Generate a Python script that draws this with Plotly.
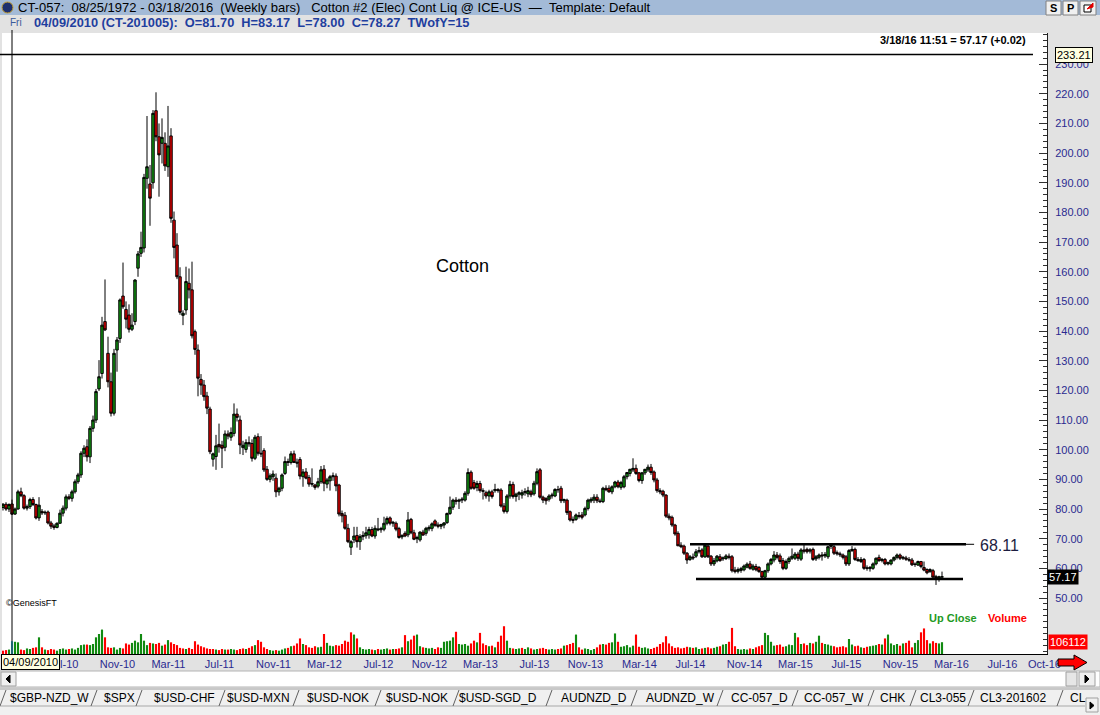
import pandas as pd
import plotly.graph_objects as go

# ---------------- data (weekly bars, Fridays) ----------------
first_bar_date = "2010-03-19"

opens = [
    80.5, 81.6, 80.0, 81.70, 78.3, 80.0, 85.8, 84.5, 80.3, 80.8,
    83.2, 81.5, 77.0, 79.2, 78.7, 79.0, 75.3, 74.3, 73.8, 75.2,
    78.6, 80.3, 84.1, 83.6, 85.8, 89.2, 91.5, 98.8, 101.0, 97.6,
    107.2, 110.0, 120.5, 125.7, 143.2, 132.5, 122.9, 112.3, 133.6, 137.5,
    151.8, 147.3, 145.4, 140.6, 143.2, 161.2, 166.2, 168.0, 191.5, 189.6,
    190.0, 214.3, 205.5, 203.3, 203.3, 195.4, 205.8, 177.4, 169.0, 158.3,
    145.3, 147.1, 156.1, 153.9, 139.8, 133.6, 123.7, 121.8, 118.1, 113.7,
    96.8, 97.7, 101.8, 101.5, 100.8, 105.3, 104.2, 105.5, 112.0, 110.0,
    100.7, 100.1, 102.4,
    102.1, 97.1, 104.4, 98.8, 99.7, 93.4, 90.0, 90.9, 90.4, 85.8,
    87.0, 92.0, 96.0, 95.7, 98.6, 95.8, 96.7, 90.9, 92.5, 90.6,
    88.6, 88.1, 87.7, 89.2, 93.4, 88.4, 89.5, 90.9, 91.1, 88.1,
    78.5, 77.9, 73.5, 67.1, 69.6, 71.1, 69.0, 70.7, 71.0, 71.3,
    73.1, 70.9, 73.3, 73.0, 73.2, 75.2, 77.0, 75.2, 75.2, 73.4,
    70.6, 71.8, 71.3, 76.5, 72.0, 70.0, 69.6, 72.2, 71.8, 73.3,
    73.5, 76.0, 74.6, 74.2, 74.6, 75.4, 78.5, 80.6, 83.0, 82.6,
    83.0, 83.0, 85.3, 92.4, 88.9, 87.2, 88.6, 86.2, 85.5, 84.4,
    85.8, 86.2, 86.6, 86.4, 81.0, 79.2, 84.4, 88.3,
    84.2, 85.0, 84.7, 85.5, 85.1, 85.8, 85.1, 88.7, 93.2, 84.0,
    83.5, 83.3, 84.4, 84.4, 86.6, 87.0, 82.8, 83.0, 79.1, 76.5,
    76.5, 77.8, 78.0, 78.0, 80.2, 82.7, 83.0, 84.0, 82.7, 82.5,
    87.0, 87.0, 85.8, 87.5, 89.1, 87.3, 87.5, 90.9, 92.0, 93.2,
    93.7, 92.2, 89.6, 92.2, 93.2, 94.1, 92.5, 89.8, 86.2, 86.0,
    84.7, 77.6, 77.2, 74.6, 71.8, 67.8, 67.5, 65.1, 63.0, 63.8,
    64.1, 65.6, 66.2, 63.9, 67.5, 64.1, 61.5, 62.5, 63.9, 63.2,
    63.3, 64.1, 63.9, 59.4, 59.0, 59.3, 59.5, 60.4, 61.5, 59.7,
    60.6, 60.3, 58.9, 57.0, 59.2, 61.5, 62.8, 64.5,
    64.2, 62.6, 60.0, 62.3, 63.4, 63.4, 64.8, 63.1, 66.2, 66.4,
    65.8, 66.4, 63.2, 63.7, 64.5, 64.2, 63.9, 67.4, 67.3, 65.3,
    64.9, 64.5, 63.9, 61.5, 66.0, 66.4, 63.0, 62.3, 63.0, 60.2,
    59.9, 60.0, 61.5, 63.7, 62.6, 63.0, 61.5, 61.5, 62.8, 63.7,
    64.5, 63.4, 63.5, 63.0, 62.8, 61.3, 61.1, 62.3, 60.3, 59.6,
    58.9, 59.2, 57.2, 56.7, 57.0,
]

highs = [
    82.0, 82.3, 81.9, 83.17, 80.5, 86.5, 87.2, 85.0, 81.5, 83.8,
    84.0, 81.8, 84.0, 80.0, 79.5, 79.5, 76.0, 75.0, 75.5, 79.8,
    81.2, 84.9, 85.0, 86.5, 90.0, 92.2, 99.5, 101.5, 103.5, 108.0,
    111.5, 120.5, 130.2, 144.8, 157.4, 138.1, 126.0, 134.0, 138.0, 151.0,
    163.1, 150.0, 149.0, 146.0, 157.5, 167.0, 173.5, 193.0, 212.5, 196.0,
    214.5, 220.5, 210.0, 211.7, 207.0, 215.9, 208.4, 180.3, 173.0, 161.5,
    147.0, 161.7, 161.1, 163.4, 140.5, 135.5, 125.5, 123.5, 119.5, 114.5,
    99.0, 105.0, 108.8, 103.0, 106.5, 106.5, 107.5, 115.6, 113.9, 111.5,
    103.0, 103.5, 104.5,
    103.5, 105.0, 105.5, 104.6, 100.5, 94.5, 92.0, 93.0, 92.0, 87.5,
    92.0, 97.7, 97.0, 99.5, 99.7, 97.0, 97.5, 93.5, 93.8, 91.5,
    93.7, 88.5, 90.5, 94.5, 94.8, 90.5, 91.5, 92.3, 92.0, 88.5,
    79.5, 79.0, 75.0, 69.5, 74.0, 74.0, 71.5, 72.5, 74.0, 74.0,
    74.0, 74.5, 77.0, 74.0, 77.4, 77.5, 77.5, 76.0, 75.8, 74.0,
    71.5, 72.5, 79.0, 77.0, 73.0, 71.0, 72.5, 73.0, 74.0, 74.5,
    75.5, 76.5, 75.5, 75.0, 75.6, 78.8, 84.2, 83.5, 84.0, 83.5,
    84.0, 86.0, 93.7, 93.0, 89.8, 89.5, 89.5, 87.0, 86.2, 86.5,
    86.5, 88.5, 87.0, 87.0, 82.0, 85.0, 89.5, 89.2,
    85.5, 86.0, 86.5, 87.0, 87.5, 86.5, 89.5, 93.7, 93.8, 84.5,
    84.0, 85.0, 85.5, 87.0, 87.8, 87.8, 83.5, 83.5, 79.5, 77.5,
    78.5, 79.0, 79.0, 80.8, 83.5, 84.0, 85.0, 85.0, 83.5, 87.5,
    88.0, 88.0, 88.0, 89.5, 89.8, 89.5, 91.5, 92.5, 93.5, 97.1,
    95.0, 92.5, 92.5, 93.5, 95.0, 95.2, 93.0, 90.5, 87.0, 86.5,
    85.0, 78.5, 77.8, 75.0, 72.5, 68.8, 68.0, 65.5, 64.5, 65.0,
    66.5, 67.3, 66.8, 68.4, 68.2, 64.5, 63.5, 64.5, 64.8, 64.0,
    64.8, 65.0, 64.5, 60.5, 60.3, 60.5, 61.3, 62.0, 62.5, 61.5,
    61.5, 60.8, 59.2, 59.5, 62.0, 63.5, 65.8, 65.5,
    65.0, 63.5, 63.0, 64.0, 66.7, 65.5, 65.6, 66.8, 68.2, 67.0,
    66.8, 67.0, 64.5, 65.0, 65.5, 65.5, 67.6, 68.5, 68.0, 66.0,
    65.6, 65.0, 64.5, 66.5, 67.5, 67.0, 63.8, 63.8, 63.5, 61.0,
    60.8, 62.0, 63.7, 64.6, 63.5, 63.5, 62.3, 63.0, 64.0, 65.0,
    65.0, 64.2, 64.2, 63.8, 63.5, 62.0, 62.6, 62.5, 62.3, 60.0,
    60.0, 59.8, 57.8, 57.5, 58.9,
]

lows = [
    79.5, 79.4, 79.0, 78.00, 78.0, 79.8, 84.0, 79.8, 79.5, 80.0,
    81.0, 76.5, 76.0, 78.0, 78.0, 74.8, 73.3, 73.0, 73.5, 75.0,
    77.5, 79.5, 83.0, 82.5, 85.2, 88.5, 90.5, 97.5, 96.0, 95.5,
    106.0, 109.0, 119.8, 124.0, 140.0, 121.0, 111.2, 111.5, 126.3, 136.0,
    147.5, 140.9, 139.5, 140.0, 142.0, 158.3, 165.0, 166.5, 188.0, 175.5,
    188.0, 204.0, 185.3, 196.5, 194.0, 192.0, 176.5, 164.5, 157.5, 145.5,
    142.0, 145.5, 151.0, 137.5, 132.0, 118.0, 118.5, 116.5, 112.0, 98.5,
    94.3, 93.2, 99.0, 93.8, 99.5, 103.5, 103.0, 104.5, 109.5, 98.5,
    98.2, 99.0, 101.0,
    96.0, 96.5, 98.0, 97.5, 92.5, 89.5, 89.0, 89.5, 84.0, 84.5,
    86.0, 91.5, 94.5, 95.0, 95.5, 94.0, 90.0, 87.5, 90.0, 87.5,
    87.5, 86.5, 87.0, 88.5, 86.0, 87.0, 86.2, 89.5, 86.0, 77.5,
    75.5, 73.0, 68.5, 64.5, 68.5, 67.0, 66.2, 69.5, 70.0, 70.0,
    70.5, 70.0, 72.5, 72.0, 72.5, 74.5, 74.5, 74.0, 72.5, 70.0,
    69.8, 70.5, 70.5, 71.5, 69.5, 68.5, 69.0, 71.0, 71.0, 72.5,
    72.5, 74.0, 73.5, 73.2, 73.5, 75.0, 78.0, 79.7, 81.5, 80.0,
    82.0, 82.5, 84.5, 86.5, 86.5, 86.0, 85.5, 83.2, 83.5, 82.5,
    83.5, 85.5, 85.5, 80.5, 78.5, 78.5, 83.5, 83.5,
    82.5, 83.0, 83.5, 84.5, 84.0, 84.0, 84.5, 88.0, 83.5, 82.0,
    81.5, 82.5, 83.5, 84.0, 85.5, 82.0, 82.0, 78.0, 75.8, 75.2,
    76.0, 76.8, 76.5, 77.5, 79.5, 82.0, 82.0, 82.0, 82.0, 82.0,
    86.0, 85.5, 85.0, 87.0, 87.0, 86.5, 87.0, 90.0, 91.0, 92.5,
    91.5, 89.0, 88.5, 91.5, 92.5, 91.5, 89.0, 85.5, 85.0, 84.0,
    77.0, 76.2, 74.0, 71.0, 67.5, 66.8, 64.5, 61.5, 62.5, 62.8,
    63.5, 65.0, 63.5, 63.5, 63.5, 60.8, 60.8, 62.0, 62.2, 62.5,
    62.8, 63.0, 58.6, 58.3, 58.3, 58.5, 59.0, 60.0, 59.5, 59.2,
    59.0, 58.5, 56.5, 56.5, 58.5, 61.0, 62.0, 63.0,
    61.5, 59.4, 59.5, 61.5, 62.8, 62.8, 62.5, 62.5, 65.0, 65.0,
    65.0, 62.5, 62.5, 63.0, 62.6, 63.5, 63.2, 66.5, 64.5, 64.3,
    63.8, 63.0, 60.8, 60.8, 65.5, 62.5, 62.2, 61.8, 59.5, 59.2,
    58.9, 59.5, 61.0, 62.2, 62.0, 61.0, 61.0, 61.0, 62.3, 63.0,
    62.8, 62.8, 62.5, 62.2, 60.8, 60.5, 60.8, 60.0, 59.0, 58.0,
    58.5, 56.8, 54.4, 55.5, 57.0,
]

closes = [
    81.6, 80.0, 81.5, 78.27, 80.0, 85.8, 84.5, 80.3, 80.8, 83.2,
    81.5, 77.0, 81.3, 78.7, 78.9, 75.3, 74.2, 73.8, 75.2, 78.6,
    80.3, 84.1, 83.6, 85.8, 89.2, 91.5, 98.8, 100.5, 97.6, 107.2,
    110.0, 119.6, 124.6, 142.0, 140.4, 122.9, 112.3, 132.5, 137.0, 150.5,
    148.2, 144.0, 140.6, 142.0, 157.2, 166.0, 168.2, 191.8, 195.4, 184.8,
    213.4, 205.5, 199.4, 205.3, 195.7, 202.4, 178.0, 168.2, 158.3, 146.3,
    146.0, 156.7, 153.9, 138.4, 133.8, 124.1, 121.8, 117.9, 114.0, 99.3,
    98.6, 101.3, 101.0, 100.5, 105.3, 104.6, 105.8, 112.0, 110.9, 101.6,
    101.5, 102.4, 102.0,
    97.1, 104.2, 98.8, 98.6, 93.2, 90.0, 91.2, 91.8, 85.8, 87.0,
    91.5, 96.0, 95.7, 98.6, 95.7, 95.5, 91.1, 92.5, 90.4, 88.4,
    88.4, 87.3, 89.2, 93.2, 88.7, 89.8, 90.9, 91.2, 87.8, 78.3,
    77.7, 73.5, 69.0, 69.0, 70.9, 69.0, 70.7, 71.1, 72.0, 73.1,
    70.9, 73.5, 73.0, 73.4, 75.2, 76.8, 75.2, 75.5, 73.2, 70.4,
    71.0, 70.9, 76.3, 72.0, 69.8, 70.4, 72.2, 71.2, 73.5, 73.8,
    75.0, 74.5, 74.2, 74.8, 75.3, 78.5, 80.6, 83.0, 82.6, 83.0,
    83.3, 85.3, 92.3, 87.0, 87.0, 88.6, 86.2, 86.0, 84.4, 85.8,
    84.2, 86.6, 86.2, 81.0, 79.2, 84.4, 88.3, 84.2,
    85.0, 85.5, 85.5, 85.9, 86.2, 84.8, 88.7, 92.6, 84.0, 83.0,
    82.8, 84.4, 84.7, 86.6, 86.5, 82.8, 83.2, 78.8, 76.3, 76.2,
    78.0, 77.5, 77.2, 80.2, 83.0, 83.3, 84.0, 82.8, 82.5, 87.0,
    86.5, 85.8, 87.5, 89.1, 87.5, 88.9, 90.9, 92.3, 93.4, 93.7,
    92.0, 89.6, 92.2, 93.4, 94.1, 92.3, 89.8, 86.2, 85.8, 84.7,
    77.6, 77.0, 74.6, 71.6, 67.6, 67.3, 65.1, 62.8, 63.9, 63.5,
    65.6, 66.0, 63.9, 67.8, 63.9, 61.5, 62.6, 64.1, 62.6, 63.5,
    64.2, 63.7, 59.2, 58.9, 59.6, 59.9, 60.8, 61.4, 60.0, 60.8,
    59.5, 58.9, 57.0, 59.2, 61.5, 63.0, 64.5, 63.7,
    62.3, 60.0, 62.3, 63.4, 64.1, 64.8, 63.4, 66.2, 65.8, 65.6,
    66.2, 63.0, 63.9, 64.5, 64.2, 64.7, 67.3, 67.9, 65.1, 64.9,
    64.6, 63.7, 61.5, 66.0, 66.4, 63.0, 62.6, 63.0, 60.0, 60.0,
    60.3, 61.5, 63.4, 62.6, 63.0, 61.5, 61.9, 62.8, 63.7, 64.5,
    63.4, 63.7, 63.1, 62.8, 61.2, 61.4, 62.3, 60.6, 59.4, 58.5,
    59.6, 57.0, 56.8, 57.15, 57.17,
]

# weekly volume, thousands of contracts
volume_k = [
    30, 35, 40, 115, 110, 105, 40, 35, 50, 45,
    55, 60, 150, 60, 40, 35, 45, 40, 30, 45,
    50, 40, 45, 50, 40, 55, 80, 85, 85, 80,
    90, 150, 180, 220, 150, 60, 55, 60, 40, 55,
    50, 95, 85, 100, 120, 105, 180, 120, 80, 100,
    95, 90, 100, 75, 85, 125, 105, 90, 80, 55,
    50, 45, 55, 45, 115, 85, 70, 60, 50, 45,
    45, 40, 35, 45, 40, 40, 45, 40, 35, 45,
    50, 45, 55, 70, 80, 125, 110, 60, 45, 35,
    30, 35, 30, 40, 50, 55, 70, 75, 95, 140,
    90, 80, 60, 55, 70, 60, 65, 180, 100, 75,
    70, 80, 75, 90, 120, 110, 195, 175, 140, 60,
    45, 40, 45, 40, 35, 45, 40, 45, 50, 40,
    45, 45, 50, 60, 170, 115, 130, 165, 175, 70,
    60, 55, 50, 55, 45, 60, 55, 110, 115, 120,
    150, 200, 90, 85, 90, 75, 95, 120, 105, 190,
    95, 80, 70, 75, 60, 110, 165, 250, 120, 55,
    50, 45, 50, 55, 45, 60, 50, 40, 45, 50,
    55, 45, 40, 45, 40, 45, 50, 75, 80, 90,
    100, 175, 60, 40, 50, 45, 35, 45, 60, 85,
    90, 85, 100, 105, 185, 110, 65, 70, 80, 60,
    75, 175, 65, 55, 60, 50, 45, 55, 65, 90,
    105, 160, 95, 70, 55, 60, 50, 55, 65, 60,
    55, 60, 45, 50, 55, 60, 50, 55, 65, 70,
    85, 90, 110, 235, 70, 45, 40, 45, 40, 50,
    45, 60, 70, 80, 190, 170, 110, 75, 80, 85,
    65, 70, 85, 80, 190, 150, 90, 95, 80, 100,
    95, 110, 165, 100, 90, 85, 75, 70, 60, 65,
    70, 60, 135, 85, 70, 75, 60, 55, 65, 70,
    75, 80, 90, 85, 140, 175, 95, 80, 90, 75,
    95, 100, 120, 60, 100, 125, 195, 230, 125, 95,
    115, 100, 95, 106.112,
]

month_ticks = ["Jul-10", "Nov-10", "Mar-11", "Jul-11", "Nov-11", "Mar-12", "Jul-12",
               "Nov-12", "Mar-13", "Jul-13", "Nov-13", "Mar-14", "Jul-14", "Nov-14",
               "Mar-15", "Jul-15", "Nov-15", "Mar-16", "Jul-16", "Oct-16"]
price_ticks = [50, 60, 70, 80, 90, 100, 110, 120, 130, 140, 150, 160, 170, 180,
               190, 200, 210, 220, 230]
cursor_bar = 3
upper_level, upper_start, upper_end, upper_ext = 68.11, 229, 321, 323.7
lower_level, lower_start, lower_end = 56.4, 231, 320
range_top_level = 233.21

tab_labels = ["$GBP-NZD_W", "$SPX", "$USD-CHF", "$USD-MXN", "$USD-NOK", "$USD-NOK",
              "$USD-SGD_D", "AUDNZD_D", "AUDNZD_W", "CC-057_D", "CC-057_W", "CHK",
              "CL3-055", "CL3-201602", "CL"]

assert len(opens) == len(highs) == len(lows) == len(closes) == len(volume_k), \
    (len(opens), len(highs), len(lows), len(closes), len(volume_k))

# ---------------- layout helpers ----------------
W, H = 1100, 715
ML, MR, MT, MB = 2, 53, 33, 61
PW, PH = W - ML - MR, H - MT - MB
FONT = "Liberation Sans, Arial, sans-serif"
NAVY = "#2a2a90"


def px(x):
    return (x - ML) / PW


def py(y):
    return (H - MB - y) / PH


t0 = pd.Timestamp(first_bar_date)


def wk(i):
    return t0 + pd.Timedelta(days=7 * i)


dates = [wk(i) for i in range(len(closes))]
volumes = [v * 1000 for v in volume_k]

vol_colors = []
for i, c in enumerate(closes):
    if i == cursor_bar:
        vol_colors.append("#3cc8e8")
    elif i > 0 and c > closes[i - 1]:
        vol_colors.append("#118a11")
    else:
        vol_colors.append("#ff0000")

# price scale: 2.966 px per unit, 50.00 sits 56 px above plot bottom
PX_PER_UNIT = 2.966
y_lo = 50 - 56 / PX_PER_UNIT
y_hi = y_lo + PH / PX_PER_UNIT
VOL_PER_PX = 9000

label_shift_days = 36
tick_pos, tick_txt = [], []
for lab in month_ticks:
    m = pd.to_datetime("01-" + lab, format="%d-%b-%y")
    first_fri = m + pd.Timedelta(days=(4 - m.weekday()) % 7)
    tick_pos.append(first_fri + pd.Timedelta(days=label_shift_days))
    tick_txt.append(lab)

fig = go.Figure()
fig.add_trace(go.Candlestick(
    x=dates, open=opens, high=highs, low=lows, close=closes,
    increasing=dict(line=dict(color="#000000", width=1), fillcolor="#119611"),
    decreasing=dict(line=dict(color="#000000", width=1), fillcolor="#e00000"),
    whiskerwidth=0, hoverinfo="skip", showlegend=False,
))
fig.add_trace(go.Bar(
    x=dates, y=volumes, yaxis="y2", width=5 * 86400000,
    marker=dict(color=vol_colors, line=dict(width=0)),
    hoverinfo="skip", showlegend=False,
))

shapes = []


def rect(x0, y0, x1, y1, fill, line=None, lw=1):
    shapes.append(dict(type="rect", xref="paper", yref="paper",
                       x0=px(x0), x1=px(x1), y0=py(y1), y1=py(y0),
                       fillcolor=fill, line=dict(color=line or fill, width=lw if line else 0)))


def pline(x0, y0, x1, y1, color, w=1):
    shapes.append(dict(type="line", xref="paper", yref="paper",
                       x0=px(x0), x1=px(x1), y0=py(y0), y1=py(y1),
                       line=dict(color=color, width=w)))


def poly(pts, fill, line="#000000", lw=1):
    d = "M " + " L ".join(f"{px(a):.5f},{py(b):.5f}" for a, b in pts) + " Z"
    shapes.append(dict(type="path", xref="paper", yref="paper", path=d,
                       fillcolor=fill, line=dict(color=line, width=lw)))


# title bar
rect(0, 0, 1100, 15, "#a3bad7")
shapes.append(dict(type="circle", xref="paper", yref="paper", x0=px(2), x1=px(13),
                   y0=py(13), y1=py(2), fillcolor="#1d2f6e", line=dict(color="#c8a030", width=1)))
for bx0, bx1 in [(1046, 1061), (1063, 1078), (1080, 1096)]:
    rect(bx0, 1, bx1, 15, "#f0f0f0", "#808080")
poly([(1084, 12), (1084, 5), (1091, 5), (1091, 12)], "white", "#000000", 1)
poly([(1087, 9), (1093, 3), (1093, 7)], "#e00000", "#e00000", 1)

# top range line at 233.21
shapes.append(dict(type="line", xref="paper", yref="y", x0=px(0), x1=px(1033),
                   y0=range_top_level, y1=range_top_level, line=dict(color="black", width=1.5)))
# cursor line
shapes.append(dict(type="line", xref="x", yref="paper", x0=str(wk(cursor_bar)), x1=str(wk(cursor_bar)),
                   y0=0, y1=py(30), line=dict(color="black", width=1)))
# support / resistance lines
shapes.append(dict(type="line", xref="x", yref="y", x0=str(wk(upper_start)), x1=str(wk(upper_end)),
                   y0=upper_level, y1=upper_level, line=dict(color="black", width=2.5)))
shapes.append(dict(type="line", xref="x", yref="y", x0=str(wk(upper_end)),
                   x1=str(t0 + pd.Timedelta(days=7 * upper_ext)),
                   y0=upper_level, y1=upper_level, line=dict(color="black", width=1)))
shapes.append(dict(type="line", xref="x", yref="y", x0=str(wk(lower_start)), x1=str(wk(lower_end)),
                   y0=lower_level, y1=lower_level, line=dict(color="black", width=2.5)))

# red arrow
poly([(1058, 659), (1074, 659), (1074, 655), (1087, 662.5), (1074, 670), (1074, 666), (1058, 666)],
     "#ff0000", "#000000", 1)

# scrollbar
rect(0, 671, 1100, 687, "#ffffff", "#b4b4b4")
rect(1, 672, 16, 686, "#f0f0f0", "#a0a0a0")
poly([(10, 675), (10, 683), (6, 679)], "#000000", "#000000", 1)
rect(1066, 672, 1077, 686, "#e6e6e6", "#a0a0a0")
rect(1079, 672, 1095, 686, "#f0f0f0", "#a0a0a0")
poly([(1085, 675), (1085, 683), (1089, 679)], "#000000", "#000000", 1)

# tab bar
rect(0, 688, 1100, 715, "#f0f0f0")
pline(0, 689, 1100, 689, "#a0a0a0", 1)
pline(0, 706, 1085, 706, "#a8a8a8", 1)
tab_edges = [3, 94, 139, 222, 296, 378, 456, 549, 634, 720, 795, 871, 913, 971, 1060]
for e in tab_edges:
    pline(e - 3, 706, e + 3, 690, "#606060", 1)
rect(1086, 698, 1098, 712, "#f0f0f0", "#a0a0a0")
poly([(1090, 702), (1090, 709), (1094, 705.5)], "#000000", "#000000", 1)

anns = []


def text(t, x, y, size=11, color="black", xanchor="left", yanchor="middle", **kw):
    anns.append(dict(text=t, x=px(x), y=py(y), xref="paper", yref="paper", showarrow=False,
                     xanchor=xanchor, yanchor=yanchor,
                     font=dict(size=size, color=color, family=FONT), **kw))


NB = "\u00a0"
text(f"CT-057:{NB*2}08/25/1972 - 03/18/2016{NB*2}(Weekly bars){NB*3}Cotton #2 (Elec) Cont Liq @ ICE-US{NB*2}\u2014{NB*2}Template: Default",
     16, 7.5, size=13)
text("<b>S</b>", 1053.5, 8, size=11, xanchor="center")
text("<b>P</b>", 1070.5, 8, size=11, xanchor="center")
text("Fri", 8, 23, size=10, color="#3a5a9a")
text(f"<b>04/09/2010 (CT-201005):{NB*2}O=81.70{NB*2}H=83.17{NB*2}L=78.00{NB*2}C=78.27{NB*2}TWofY=15</b>",
     32, 23, size=12.8, color="#1f3f9f")
text("<b>3/18/16 11:51 = 57.17 (+0.02)</b>", 1028, 40, size=11, xanchor="right")
text("Cotton", 462, 266, size=18, xanchor="center")
text("68.11", 999, 545, size=16, color="#1c1c40", xanchor="center")
text("\u00a9GenesisFT", 4, 603, size=9)
text("<b>Up Close</b>", 927, 618, size=11, color="#1e9a1e")
text("<b>Volume</b>", 986, 618, size=11, color="#ff0000")
text("04/09/2010", 1, 662, size=11, bgcolor="#ffffe1", bordercolor="#000000", borderwidth=1, borderpad=1)

# price / volume flags on the right scale
anns.append(dict(text=f"{range_top_level:.2f}", x=px(1055), y=range_top_level, xref="paper", yref="y",
                 showarrow=False, xanchor="left", yanchor="middle",
                 font=dict(size=11, color="black", family=FONT),
                 bgcolor="#ffffe1", bordercolor="#000000", borderwidth=1, borderpad=1))
anns.append(dict(text=f"{closes[-1]:.2f}", x=px(1047), y=closes[-1], xref="paper", yref="y",
                 showarrow=False, xanchor="left", yanchor="middle",
                 font=dict(size=11, color="white", family=FONT), bgcolor="#000000", borderpad=1))
anns.append(dict(text=f"{round(volumes[-1])}", x=px(1048), y=volumes[-1], xref="paper", yref="y2",
                 showarrow=False, xanchor="left", yanchor="middle",
                 font=dict(size=11, color="white", family=FONT), bgcolor="#ff0000", borderpad=1))

tab_centers = [49, 119, 184, 258, 338, 417, 498, 594, 680, 759, 834, 892, 943, 1013, 1078]
for lab, cx in zip(tab_labels, tab_centers):
    text(lab, cx, 697.5, size=12, xanchor="center")

fig.update_layout(
    width=W, height=H,
    margin=dict(l=ML, r=MR, t=MT, b=MB, pad=0),
    paper_bgcolor="#e2e2e2", plot_bgcolor="#ffffff",
    font=dict(family=FONT, size=11, color="black"),
    showlegend=False, boxgap=0.1, boxgroupgap=0.1,
    shapes=shapes, annotations=anns,
    xaxis=dict(
        type="date", range=[t0 - pd.Timedelta(days=7 / 3), t0 + pd.Timedelta(days=7 * 348)],
        rangeslider=dict(visible=False), showgrid=False, zeroline=False,
        showline=True, linecolor="#000000", linewidth=1, ticks="",
        tickmode="array", tickvals=tick_pos, ticktext=tick_txt,
        tickfont=dict(size=11, color=NAVY, family=FONT), automargin=False,
        ticklabelstandoff=0,
    ),
    yaxis=dict(
        side="right", range=[y_lo, y_hi], showgrid=False, zeroline=False,
        showline=True, linecolor="#202020", linewidth=1,
        tickmode="array", tickvals=price_ticks, ticktext=[f"{v:.2f}" for v in price_ticks],
        ticks="inside", ticklen=8, tickcolor="#303030", tickwidth=1,
        minor=dict(tickmode="linear", tick0=0, dtick=2, ticks="inside", ticklen=4,
                   tickcolor="#303030", tickwidth=1, showgrid=False),
        tickfont=dict(size=11, color=NAVY, family=FONT), automargin=False,
        ticklabelstandoff=5,
    ),
    yaxis2=dict(overlaying="y", range=[0, PH * VOL_PER_PX], visible=False, fixedrange=True),
)

fig.write_html(
    "out.html",
    config={"displayModeBar": False, "staticPlot": True},
    post_script="document.body.style.margin='0px';document.body.style.overflow='hidden';",
)
